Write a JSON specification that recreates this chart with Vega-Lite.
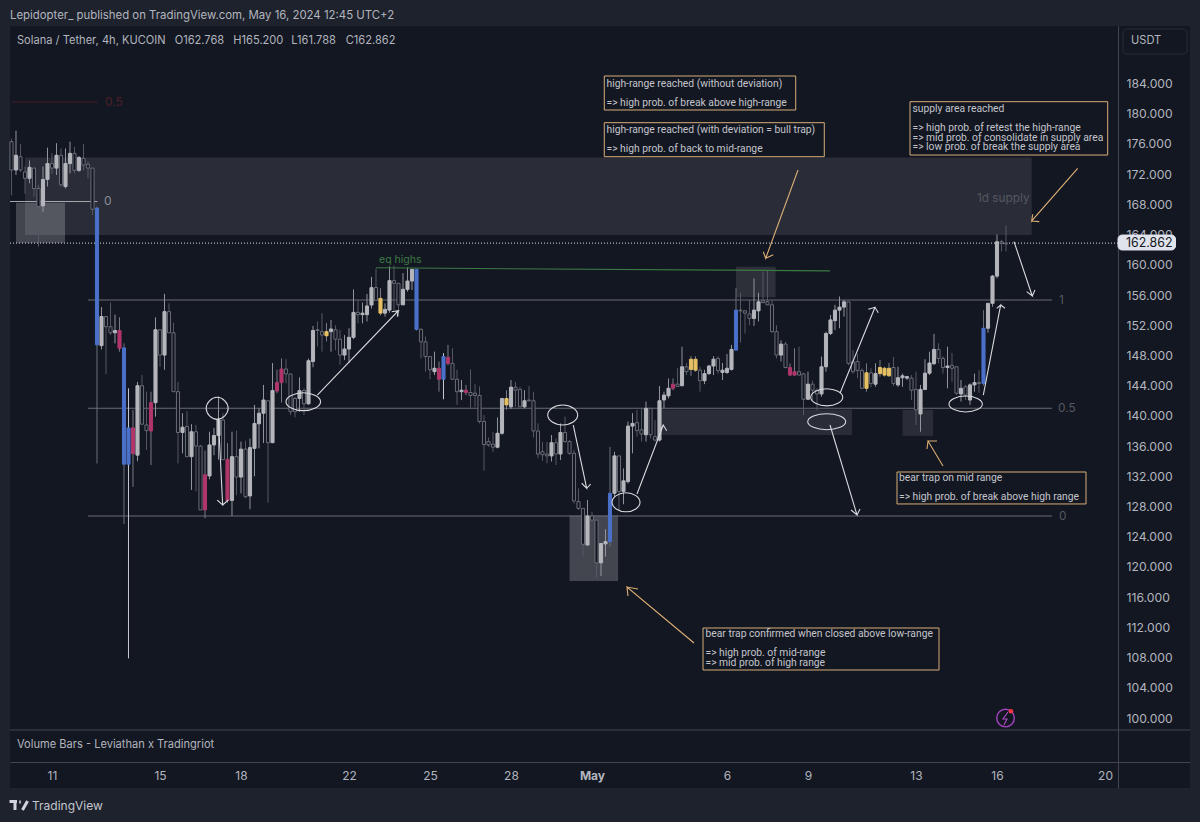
{
  "$schema": "https://vega.github.io/schema/vega-lite/v6.json",
  "autosize": {"type": "none"},
  "padding": {"left": 10, "top": 26, "right": 10, "bottom": 34},
  "width": 1180,
  "height": 762,
  "background": "#1e222d",
  "title": {
    "text": "Lepidopter_ published on TradingView.com, May 16, 2024 12:45 UTC+2",
    "anchor": "start",
    "frame": "group",
    "offset": 5,
    "font": "Inter",
    "fontSize": 11.4,
    "fontWeight": "normal",
    "color": "#b2b5be"
  },
  "config": {
    "view": {"fill": "#131722", "stroke": null},
    "font": "Inter"
  },
  "resolve": {"scale": {"color": "independent", "fill": "independent", "stroke": "independent"}},
  "datasets": {
    "candles": [
      {"b":-9,"o":172.55,"h":176.7,"l":169.2,"c":176.3,"k":"down"},{"b":-8,"o":172.55,"h":177.76,"l":171.9,"c":174.5,"k":"up"},{"b":-7,"o":174.3,"h":176,"l":172.3,"c":172.55,"k":"down"},{"b":-6,"o":172.3,"h":173,"l":169.4,"c":171.45,"k":"down"},{"b":-5,"o":171.45,"h":173.8,"l":170.8,"c":172.9,"k":"up"},{"b":-4,"o":172.8,"h":172.8,"l":169,"c":170.1,"k":"down"},{"b":-3,"o":170.1,"h":170.6,"l":162.4,"c":167.7,"k":"down"},{"b":-2,"o":167.8,"h":173,"l":167,"c":171.3,"k":"up"},{"b":-1,"o":171.3,"h":175.5,"l":170.35,"c":173.4,"k":"up"},{"b":0,"o":173.4,"h":174.8,"l":172,"c":172.8,"k":"down"},
      {"b":1,"o":172.8,"h":176.1,"l":171.9,"c":174.5,"k":"up"},{"b":2,"o":174.5,"h":175.4,"l":170.3,"c":170.6,"k":"down"},{"b":3,"o":170.35,"h":175.4,"l":170.1,"c":173.4,"k":"up"},{"b":4,"o":173.4,"h":176.3,"l":172.1,"c":174.75,"k":"up"},{"b":5,"o":174.75,"h":175.6,"l":172.1,"c":172.5,"k":"down"},{"b":6,"o":172.5,"h":174.4,"l":172.3,"c":174.2,"k":"up"},{"b":7,"o":174.1,"h":176,"l":172.5,"c":173.2,"k":"down"},{"b":8,"o":173.3,"h":173.7,"l":171.45,"c":172.8,"k":"down"},{"b":9,"o":172.8,"h":172.8,"l":166.6,"c":167.35,"k":"down"},{"b":10,"o":167.5,"h":167.7,"l":133.7,"c":149.4,"k":"blue"},
      {"b":11,"o":149.3,"h":154.4,"l":148.8,"c":153.15,"k":"up"},{"b":12,"o":153.15,"h":153.15,"l":145.55,"c":151.8,"k":"down"},{"b":13,"o":151.8,"h":155,"l":150.7,"c":151,"k":"down"},{"b":14,"o":151,"h":153.4,"l":149.6,"c":151.3,"k":"up"},{"b":15,"o":151.3,"h":153.05,"l":148.5,"c":148.95,"k":"pink"},{"b":16,"o":149,"h":149.6,"l":125.7,"c":133.6,"k":"blue"},{"b":17,"o":133.6,"h":143.65,"l":107.9,"c":138.4,"k":"blue2"},{"b":18,"o":138.4,"h":140.8,"l":130.6,"c":135,"k":"pink"},{"b":19,"o":134.8,"h":144.5,"l":134,"c":144,"k":"up"},{"b":20,"o":144,"h":145.4,"l":138.8,"c":138.9,"k":"down"},
      {"b":21,"o":138.8,"h":143.2,"l":135.5,"c":138.05,"k":"down"},{"b":22,"o":138,"h":143.2,"l":133.5,"c":141.75,"k":"pink"},{"b":23,"o":141.75,"h":153.05,"l":139.9,"c":151.4,"k":"up"},{"b":24,"o":151.4,"h":151.4,"l":146.5,"c":148.05,"k":"down"},{"b":25,"o":148.05,"h":156.15,"l":146.1,"c":153.8,"k":"up"},{"b":26,"o":153.8,"h":154.9,"l":151,"c":151,"k":"down"},{"b":27,"o":151,"h":152.3,"l":143.2,"c":143.2,"k":"down"},{"b":28,"o":143.2,"h":144.5,"l":133.7,"c":137.8,"k":"down"},{"b":29,"o":137.8,"h":140.35,"l":135.05,"c":138.5,"k":"up"},{"b":30,"o":138.6,"h":140.6,"l":134.6,"c":134.6,"k":"down"},
      {"b":31,"o":134.6,"h":138.9,"l":130.2,"c":137.9,"k":"up"},{"b":32,"o":137.9,"h":138.8,"l":130,"c":136,"k":"down"},{"b":33,"o":136,"h":136.15,"l":127.55,"c":127.55,"k":"down"},{"b":34,"o":132.2,"h":135.4,"l":126.45,"c":127.55,"k":"pink"},{"b":35,"o":132.05,"h":137.9,"l":131.6,"c":136.15,"k":"up"},{"b":36,"o":136.15,"h":138.4,"l":134.8,"c":137.4,"k":"up"},{"b":37,"o":137.4,"h":142.55,"l":134.2,"c":139.45,"k":"up"},{"b":38,"o":139.45,"h":140.35,"l":134.2,"c":134.2,"k":"down"},{"b":39,"o":134.25,"h":136.4,"l":128.5,"c":128.8,"k":"pink"},{"b":40,"o":128.8,"h":137.9,"l":126.75,"c":134.6,"k":"up"},
      {"b":41,"o":134.6,"h":138.05,"l":129.5,"c":131.9,"k":"down"},{"b":42,"o":131.9,"h":136.6,"l":129.75,"c":135.6,"k":"up"},{"b":43,"o":135.6,"h":136.7,"l":129.1,"c":129.3,"k":"down"},{"b":44,"o":129.4,"h":137,"l":127.65,"c":135.8,"k":"up"},{"b":45,"o":135.7,"h":141.45,"l":132,"c":139,"k":"up"},{"b":46,"o":138.95,"h":141,"l":135.7,"c":140.35,"k":"up"},{"b":47,"o":140.35,"h":144.1,"l":136.4,"c":142.1,"k":"up"},{"b":48,"o":142,"h":142,"l":128.5,"c":136.45,"k":"down"},{"b":49,"o":136.45,"h":147,"l":136.4,"c":143.35,"k":"up"},{"b":50,"o":143.3,"h":146.1,"l":143,"c":144.4,"k":"pink"},
      {"b":51,"o":144.4,"h":147.6,"l":141.75,"c":146.2,"k":"pink"},{"b":52,"o":146.2,"h":147.5,"l":144.3,"c":145.55,"k":"down"},{"b":53,"o":145.55,"h":145.55,"l":140.1,"c":140.55,"k":"down"},{"b":54,"o":142.3,"h":142.55,"l":139.8,"c":140.55,"k":"down"},{"b":55,"o":142.3,"h":145.1,"l":140.55,"c":143.35,"k":"up"},{"b":56,"o":143.35,"h":143.65,"l":140.1,"c":141.6,"k":"down"},{"b":57,"o":141.6,"h":147.6,"l":141.45,"c":147.3,"k":"up"},{"b":58,"o":147.2,"h":151.9,"l":146.45,"c":151.3,"k":"up"},{"b":59,"o":151.4,"h":152.5,"l":149.2,"c":151.3,"k":"down"},{"b":60,"o":151.15,"h":153.6,"l":148.5,"c":150.7,"k":"down"},
      {"b":61,"o":151.15,"h":152.3,"l":149.85,"c":150.6,"k":"yellow"},{"b":62,"o":151.15,"h":152.7,"l":148.5,"c":151.5,"k":"up"},{"b":63,"o":151.4,"h":152,"l":148.7,"c":150.15,"k":"down"},{"b":64,"o":150.15,"h":151.4,"l":146.75,"c":148.05,"k":"down"},{"b":65,"o":148.05,"h":150.7,"l":147.4,"c":148.85,"k":"up"},{"b":66,"o":148.85,"h":151.6,"l":147,"c":150.4,"k":"up"},{"b":67,"o":150.4,"h":156.75,"l":150.15,"c":153.7,"k":"up"},{"b":68,"o":153.7,"h":155.35,"l":152.25,"c":153.4,"k":"down"},{"b":69,"o":153.4,"h":155,"l":152.25,"c":153.6,"k":"up"},{"b":70,"o":153.4,"h":156.15,"l":152.5,"c":154.55,"k":"up"},
      {"b":71,"o":154.68,"h":158.4,"l":154.2,"c":156.97,"k":"up"},{"b":72,"o":157,"h":159.5,"l":155.3,"c":155.3,"k":"down"},{"b":73,"o":155.55,"h":156.9,"l":153.3,"c":153.6,"k":"yellow"},{"b":74,"o":153.6,"h":154.9,"l":153.15,"c":154.1,"k":"up"},{"b":75,"o":154,"h":159.8,"l":153.66,"c":157.9,"k":"up"},{"b":76,"o":157.9,"h":159.9,"l":154,"c":157.55,"k":"down"},{"b":77,"o":157.55,"h":157.55,"l":153.15,"c":154.7,"k":"down"},{"b":78,"o":154.7,"h":158.9,"l":154.7,"c":156.75,"k":"up"},{"b":79,"o":156.75,"h":159.65,"l":156.45,"c":157.85,"k":"up"},{"b":80,"o":157.85,"h":159.4,"l":156.65,"c":159.4,"k":"up"},
      {"b":81,"o":159.4,"h":159.45,"l":151.3,"c":151.45,"k":"blue"},{"b":82,"o":151.45,"h":151.6,"l":147.6,"c":149.8,"k":"down"},{"b":83,"o":149.8,"h":150.5,"l":145.85,"c":147.85,"k":"down"},{"b":84,"o":147.85,"h":147.85,"l":144.85,"c":146.1,"k":"down"},{"b":85,"o":145.85,"h":148.5,"l":145.4,"c":146.3,"k":"up"},{"b":86,"o":146.3,"h":147.2,"l":143.2,"c":144.85,"k":"pink"},{"b":87,"o":144.85,"h":148.3,"l":142.2,"c":147.85,"k":"blue2"},{"b":88,"o":147.75,"h":149.4,"l":146.7,"c":146.95,"k":"pink"},{"b":89,"o":146.95,"h":148.95,"l":144.75,"c":144.85,"k":"down"},{"b":90,"o":144.85,"h":146.1,"l":141.45,"c":143.2,"k":"down"},
      {"b":91,"o":143.2,"h":144.75,"l":142.1,"c":143.4,"k":"up"},{"b":92,"o":143.4,"h":144.1,"l":142.75,"c":143.1,"k":"pink"},{"b":93,"o":143.1,"h":146.15,"l":141.1,"c":142.7,"k":"down"},{"b":94,"o":143,"h":144.2,"l":141.2,"c":142.7,"k":"down"},{"b":95,"o":142.7,"h":143.9,"l":139,"c":139.25,"k":"down"},{"b":96,"o":139.25,"h":140.1,"l":132.75,"c":136.2,"k":"down"},{"b":97,"o":136.6,"h":137.15,"l":135.9,"c":136.15,"k":"down"},{"b":98,"o":136.25,"h":137.9,"l":135.25,"c":135.85,"k":"down"},{"b":99,"o":135.85,"h":139.8,"l":135.7,"c":137.7,"k":"up"},{"b":100,"o":137.7,"h":142.3,"l":137.5,"c":142.3,"k":"up"},
      {"b":101,"o":141.45,"h":143.4,"l":140.8,"c":142.3,"k":"yellow"},{"b":102,"o":141.2,"h":144.75,"l":140.9,"c":143.8,"k":"up"},{"b":103,"o":143.8,"h":144.5,"l":141.2,"c":143.4,"k":"down"},{"b":104,"o":143.5,"h":143.85,"l":141.2,"c":141.2,"k":"down"},{"b":105,"o":141.2,"h":143.4,"l":141,"c":142,"k":"up"},{"b":106,"o":142.1,"h":143.95,"l":141.9,"c":142,"k":"down"},{"b":107,"o":142,"h":143.2,"l":137.15,"c":138,"k":"down"},{"b":108,"o":138,"h":139,"l":134.4,"c":134.95,"k":"down"},{"b":109,"o":135.25,"h":136.55,"l":134.05,"c":134.85,"k":"down"},{"b":110,"o":134.95,"h":136.55,"l":133.7,"c":134.7,"k":"down"},
      {"b":111,"o":134.7,"h":137.45,"l":133.95,"c":136.45,"k":"up"},{"b":112,"o":136.45,"h":137,"l":133.5,"c":134.95,"k":"down"},{"b":113,"o":134.95,"h":139,"l":134.15,"c":137.8,"k":"up"},{"b":114,"o":137.8,"h":139.9,"l":136.45,"c":136.6,"k":"down"},{"b":115,"o":136.6,"h":136.8,"l":134.85,"c":135.05,"k":"down"},{"b":116,"o":135.05,"h":135.5,"l":128.4,"c":128.75,"k":"down"},{"b":117,"o":128.65,"h":130.4,"l":127.55,"c":127.75,"k":"down"},{"b":118,"o":127.75,"h":127.75,"l":121.35,"c":123,"k":"down"},{"b":119,"o":122.9,"h":128.85,"l":122.9,"c":126.75,"k":"up"},{"b":120,"o":126.75,"h":127.3,"l":126,"c":126.2,"k":"down"},
      {"b":121,"o":126.2,"h":126.2,"l":118.5,"c":120.55,"k":"down"},{"b":122,"o":120.55,"h":123.1,"l":118.8,"c":123.1,"k":"up"},{"b":123,"o":123.05,"h":125,"l":121.35,"c":123.35,"k":"up"},{"b":124,"o":123.35,"h":135.9,"l":122.7,"c":129.75,"k":"blue"},{"b":125,"o":129.75,"h":135.25,"l":129.3,"c":134.7,"k":"up"},{"b":126,"o":134.7,"h":134.7,"l":127.5,"c":130,"k":"down"},{"b":127,"o":130,"h":133.05,"l":128.3,"c":131.4,"k":"up"},{"b":128,"o":131.3,"h":139.25,"l":131.05,"c":138.65,"k":"up"},{"b":129,"o":138.65,"h":140.35,"l":135.05,"c":139,"k":"up"},{"b":130,"o":139.1,"h":140.8,"l":137.25,"c":138.05,"k":"down"},
      {"b":131,"o":138.15,"h":141,"l":136.6,"c":137.6,"k":"down"},{"b":132,"o":137.5,"h":141.9,"l":136.6,"c":141,"k":"up"},{"b":133,"o":141,"h":141,"l":137,"c":137.5,"k":"down"},{"b":134,"o":137.25,"h":139.45,"l":136.6,"c":136.8,"k":"down"},{"b":135,"o":136.8,"h":143.95,"l":136.6,"c":142,"k":"up"},{"b":136,"o":142.1,"h":143.2,"l":141,"c":142.75,"k":"up"},{"b":137,"o":142.65,"h":144.95,"l":142.3,"c":143.65,"k":"up"},{"b":138,"o":144.2,"h":144.95,"l":143.4,"c":143.65,"k":"pink"},{"b":139,"o":144.2,"h":146.3,"l":143.9,"c":143.9,"k":"down"},{"b":140,"o":144,"h":149.15,"l":143.9,"c":146.5,"k":"up"},
      {"b":141,"o":146.5,"h":147,"l":145.4,"c":145.85,"k":"down"},{"b":142,"o":146.15,"h":147.9,"l":145.3,"c":147.5,"k":"yellow"},{"b":143,"o":147.5,"h":147.9,"l":145.85,"c":146.05,"k":"yellow"},{"b":144,"o":146.05,"h":146.5,"l":143.2,"c":144.65,"k":"down"},{"b":145,"o":144.65,"h":146.1,"l":144.2,"c":145.6,"k":"up"},{"b":146,"o":145.6,"h":146.75,"l":145.4,"c":146.6,"k":"up"},{"b":147,"o":146.6,"h":147.9,"l":145.4,"c":147.5,"k":"up"},{"b":148,"o":147.6,"h":147.9,"l":145.6,"c":146,"k":"down"},{"b":149,"o":145.75,"h":147,"l":144.75,"c":146.05,"k":"up"},{"b":150,"o":145.75,"h":148.2,"l":145.55,"c":146.3,"k":"up"},
      {"b":151,"o":146.15,"h":149.4,"l":146,"c":148.8,"k":"up"},{"b":152,"o":148.7,"h":156.9,"l":148.7,"c":154,"k":"blue"},{"b":153,"o":154,"h":156.3,"l":149.7,"c":153.9,"k":"down"},{"b":154,"o":153.9,"h":154,"l":150.9,"c":153.6,"k":"down"},{"b":155,"o":153.5,"h":155.35,"l":152,"c":152.9,"k":"down"},{"b":156,"o":152.9,"h":158.2,"l":151.9,"c":154,"k":"up"},{"b":157,"o":153.9,"h":156.3,"l":152.5,"c":155.1,"k":"up"},{"b":158,"o":155.25,"h":159.1,"l":154.9,"c":155,"k":"down"},{"b":159,"o":155.1,"h":159.3,"l":154.7,"c":154.7,"k":"down"},{"b":160,"o":154.7,"h":155.4,"l":151,"c":151.15,"k":"down"},
      {"b":161,"o":151.15,"h":152,"l":147.6,"c":148.05,"k":"down"},{"b":162,"o":148.05,"h":150,"l":147.2,"c":149.5,"k":"up"},{"b":163,"o":149.5,"h":149.8,"l":146.3,"c":146.4,"k":"down"},{"b":164,"o":146.4,"h":146.95,"l":145.3,"c":145.4,"k":"pink"},{"b":165,"o":145.85,"h":148.95,"l":145.3,"c":145.4,"k":"pink"},{"b":166,"o":145.85,"h":149.15,"l":145.4,"c":145.4,"k":"down"},{"b":167,"o":145.55,"h":145.7,"l":140.1,"c":142.2,"k":"down"},{"b":168,"o":142.2,"h":145.85,"l":142.1,"c":144.2,"k":"up"},{"b":169,"o":144.2,"h":144.65,"l":142,"c":143.4,"k":"down"},{"b":170,"o":143.4,"h":143.65,"l":140.7,"c":142.9,"k":"down"},
      {"b":171,"o":142.9,"h":147.85,"l":142.55,"c":146.5,"k":"up"},{"b":172,"o":146.5,"h":151.15,"l":145.85,"c":150.9,"k":"up"},{"b":173,"o":150.9,"h":153.35,"l":150.7,"c":152.7,"k":"up"},{"b":174,"o":152.6,"h":154.7,"l":151.35,"c":154,"k":"up"},{"b":175,"o":154,"h":155.8,"l":151.6,"c":154.4,"k":"up"},{"b":176,"o":154.4,"h":155.35,"l":153.15,"c":155.1,"k":"up"},{"b":177,"o":155.1,"h":155.1,"l":146.7,"c":146.95,"k":"down"},{"b":178,"o":147.15,"h":148.7,"l":145.6,"c":145.85,"k":"down"},{"b":179,"o":147.2,"h":148.2,"l":145,"c":146,"k":"down"},{"b":180,"o":146,"h":146.3,"l":143.6,"c":143.65,"k":"down"},
      {"b":181,"o":145.7,"h":146.95,"l":143.2,"c":143.65,"k":"yellow"},{"b":182,"o":145.7,"h":146.3,"l":143.8,"c":144.3,"k":"down"},{"b":183,"o":144.2,"h":146.95,"l":143.85,"c":145.6,"k":"up"},{"b":184,"o":145.6,"h":147.4,"l":145.2,"c":146.4,"k":"yellow"},{"b":185,"o":145.4,"h":146.5,"l":145.2,"c":146.3,"k":"yellow"},{"b":186,"o":146.3,"h":147,"l":145.2,"c":145.3,"k":"yellow"},{"b":187,"o":146.4,"h":147.8,"l":143.95,"c":144.3,"k":"down"},{"b":188,"o":144.1,"h":146.5,"l":143.85,"c":145.05,"k":"up"},{"b":189,"o":145.05,"h":145.6,"l":143.85,"c":145.3,"k":"up"},{"b":190,"o":145,"h":145.3,"l":144.75,"c":145.2,"k":"up"},
      {"b":191,"o":145,"h":145.4,"l":142.1,"c":143.4,"k":"down"},{"b":192,"o":143.5,"h":145.85,"l":138.8,"c":140.8,"k":"down"},{"b":193,"o":140.25,"h":144.1,"l":137.9,"c":143.5,"k":"up"},{"b":194,"o":143.5,"h":147.5,"l":143.4,"c":145.65,"k":"up"},{"b":195,"o":145.65,"h":148.5,"l":145.4,"c":147,"k":"up"},{"b":196,"o":146.9,"h":150.85,"l":146.75,"c":148.8,"k":"up"},{"b":197,"o":148.8,"h":149.6,"l":146.95,"c":147.6,"k":"down"},{"b":198,"o":147.6,"h":147.9,"l":145.6,"c":146.4,"k":"down"},{"b":199,"o":146.4,"h":149.15,"l":143.65,"c":146.6,"k":"up"},{"b":200,"o":146.7,"h":148.35,"l":144.5,"c":146.3,"k":"down"},
      {"b":201,"o":146.5,"h":146.5,"l":142.75,"c":143,"k":"down"},{"b":202,"o":142.9,"h":144.75,"l":141.9,"c":143.65,"k":"up"},{"b":203,"o":143.85,"h":144.1,"l":142.1,"c":142.75,"k":"down"},{"b":204,"o":142.1,"h":144.3,"l":141.45,"c":144.1,"k":"up"},{"b":205,"o":144.1,"h":145.6,"l":143.2,"c":144.4,"k":"up"},{"b":206,"o":144.4,"h":146.05,"l":143.05,"c":144.3,"k":"down"},{"b":207,"o":144.3,"h":154,"l":144,"c":151.6,"k":"blue"},{"b":208,"o":151.6,"h":154.9,"l":151,"c":154.9,"k":"up"},{"b":209,"o":154.9,"h":158.65,"l":154.45,"c":158.5,"k":"up"},{"b":210,"o":158.5,"h":164,"l":158.2,"c":163.05,"k":"up"},
      {"b":211,"o":163.05,"h":163.3,"l":161.75,"c":162.85,"k":"down"},{"b":212,"o":162.768,"h":165.2,"l":161.788,"c":162.862,"k":"down"}
    ],
    "zones": [
      {"kind":"supply","b":-6,"b2":217.7,"p":174.2,"p2":163.95},
      {"kind":"left","b":-8,"b2":2.9,"p":168.2,"p2":162.9},
      {"kind":"low","b":115,"b2":125.8,"p":126.8,"p2":118.15},
      {"kind":"mid","b":135.1,"b2":177.8,"p":140.85,"p2":137.47},
      {"kind":"top","b":152,"b2":160.8,"p":159.75,"p2":155.7},
      {"kind":"mid","b":189,"b2":195.8,"p":140.8,"p2":137.35}
    ],
    "levels": [
      {"kind":"red","b":-8.89,"b2":10.1,"p":181.55},
      {"kind":"upper","b":-9.33,"b2":10.1,"p":168.38},
      {"kind":"fib","b":8,"b2":222.2,"p":155.33},
      {"kind":"fib","b":8,"b2":222.2,"p":141},
      {"kind":"fib","b":8,"b2":222.2,"p":126.75},
      {"kind":"pane","b":-9.33,"b2":252.89,"p":98.42}
    ],
    "loops": [
      {"id":"e1","o":0,"b":36.7,"p":142.46},{"id":"e1","o":1,"b":38.4,"p":142},{"id":"e1","o":2,"b":39.15,"p":141},{"id":"e1","o":3,"b":38.4,"p":140},{"id":"e1","o":4,"b":36.7,"p":139.54},{"id":"e1","o":5,"b":35,"p":140},{"id":"e1","o":6,"b":34.26,"p":141},{"id":"e1","o":7,"b":35,"p":142},
      {"id":"e2","o":0,"b":55.84,"p":143.07},{"id":"e2","o":1,"b":58.53,"p":142.71},{"id":"e2","o":2,"b":59.68,"p":141.88},{"id":"e2","o":3,"b":58.53,"p":141.05},{"id":"e2","o":4,"b":55.84,"p":140.69},{"id":"e2","o":5,"b":53.15,"p":141.05},{"id":"e2","o":6,"b":52,"p":141.88},{"id":"e2","o":7,"b":53.15,"p":142.71},
      {"id":"e3","o":0,"b":113.49,"p":141.44},{"id":"e3","o":1,"b":115.82,"p":141.05},{"id":"e3","o":2,"b":116.82,"p":140.12},{"id":"e3","o":3,"b":115.82,"p":139.19},{"id":"e3","o":4,"b":113.49,"p":138.8},{"id":"e3","o":5,"b":111.16,"p":139.19},{"id":"e3","o":6,"b":110.16,"p":140.12},{"id":"e3","o":7,"b":111.16,"p":141.05},
      {"id":"e4","o":0,"b":127.56,"p":129.82},{"id":"e4","o":1,"b":129.74,"p":129.44},{"id":"e4","o":2,"b":130.67,"p":128.56},{"id":"e4","o":3,"b":129.74,"p":127.68},{"id":"e4","o":4,"b":127.56,"p":127.3},{"id":"e4","o":5,"b":125.38,"p":127.68},{"id":"e4","o":6,"b":124.45,"p":128.56},{"id":"e4","o":7,"b":125.38,"p":129.44},
      {"id":"e5","o":0,"b":172.16,"p":143.59},{"id":"e5","o":1,"b":174.65,"p":143.25},{"id":"e5","o":2,"b":175.72,"p":142.46},{"id":"e5","o":3,"b":174.65,"p":141.67},{"id":"e5","o":4,"b":172.16,"p":141.33},{"id":"e5","o":5,"b":169.67,"p":141.67},{"id":"e5","o":6,"b":168.6,"p":142.46},{"id":"e5","o":7,"b":169.67,"p":143.25},
      {"id":"e6","o":0,"b":172.16,"p":140.29},{"id":"e6","o":1,"b":175.11,"p":139.97},{"id":"e6","o":2,"b":176.38,"p":139.23},{"id":"e6","o":3,"b":175.11,"p":138.49},{"id":"e6","o":4,"b":172.16,"p":138.17},{"id":"e6","o":5,"b":169.21,"p":138.49},{"id":"e6","o":6,"b":167.94,"p":139.23},{"id":"e6","o":7,"b":169.21,"p":139.97},
      {"id":"e7","o":0,"b":203.04,"p":142.63},{"id":"e7","o":1,"b":205.64,"p":142.31},{"id":"e7","o":2,"b":206.75,"p":141.57},{"id":"e7","o":3,"b":205.64,"p":140.83},{"id":"e7","o":4,"b":203.04,"p":140.51},{"id":"e7","o":5,"b":200.44,"p":140.83},{"id":"e7","o":6,"b":199.33,"p":141.57},{"id":"e7","o":7,"b":200.44,"p":142.31}
    ],
    "paths": [
      {"id":"eq","kind":"green","o":0,"b":72,"p":159.6},{"id":"eq","kind":"green","o":1,"b":172.89,"p":159.2},
      {"id":"a1","kind":"white","o":0,"b":36.96,"p":139.72},{"id":"a1","kind":"white","o":1,"b":37.93,"p":128.2},{"id":"a1","kind":"white","o":2,"b":36.73,"p":128.86},{"id":"a1","kind":"white","o":3,"b":37.93,"p":128.2},{"id":"a1","kind":"white","o":4,"b":39.18,"p":128.86},
      {"id":"a2","kind":"white","o":0,"b":58.96,"p":142.76},{"id":"a2","kind":"white","o":1,"b":76.96,"p":153.92},{"id":"a2","kind":"white","o":2,"b":75.49,"p":153.79},{"id":"a2","kind":"white","o":3,"b":76.96,"p":153.92},{"id":"a2","kind":"white","o":4,"b":76.73,"p":153.13},
      {"id":"a3","kind":"white","o":0,"b":115.84,"p":138.79},{"id":"a3","kind":"white","o":1,"b":118.82,"p":130.41},{"id":"a3","kind":"white","o":2,"b":117.71,"p":131.08},{"id":"a3","kind":"white","o":3,"b":118.82,"p":130.41},{"id":"a3","kind":"white","o":4,"b":119.71,"p":130.98},
      {"id":"a4","kind":"white","o":0,"b":130,"p":129.66},{"id":"a4","kind":"white","o":1,"b":135.84,"p":138.79},{"id":"a4","kind":"white","o":2,"b":135.27,"p":138.13},{"id":"a4","kind":"white","o":3,"b":135.84,"p":138.79},{"id":"a4","kind":"white","o":4,"b":136.6,"p":138.04},
      {"id":"a5","kind":"white","o":0,"b":175.11,"p":142.99},{"id":"a5","kind":"white","o":1,"b":182.89,"p":154.37},{"id":"a5","kind":"white","o":2,"b":181.4,"p":154.11},{"id":"a5","kind":"white","o":3,"b":182.89,"p":154.37},{"id":"a5","kind":"white","o":4,"b":183.62,"p":153.66},
      {"id":"a6","kind":"white","o":0,"b":172.89,"p":138.79},{"id":"a6","kind":"white","o":1,"b":178.89,"p":126.88},{"id":"a6","kind":"white","o":2,"b":177.56,"p":127.54},{"id":"a6","kind":"white","o":3,"b":178.89,"p":126.88},{"id":"a6","kind":"white","o":4,"b":179.56,"p":127.67},
      {"id":"a8","kind":"white","o":0,"b":206.96,"p":142.76},{"id":"a8","kind":"white","o":1,"b":210.82,"p":154.68},{"id":"a8","kind":"white","o":2,"b":209.93,"p":154.24},{"id":"a8","kind":"white","o":3,"b":210.82,"p":154.68},{"id":"a8","kind":"white","o":4,"b":211.78,"p":154.24},
      {"id":"a9","kind":"white","o":0,"b":213.78,"p":163.06},{"id":"a9","kind":"white","o":1,"b":217.84,"p":155.87},{"id":"a9","kind":"white","o":2,"b":216.6,"p":156.44},{"id":"a9","kind":"white","o":3,"b":217.84,"p":155.87},{"id":"a9","kind":"white","o":4,"b":218.44,"p":156.66},
      {"id":"o1","kind":"orange","o":0,"b":165.78,"p":172.55},{"id":"o1","kind":"orange","o":1,"b":158.6,"p":160.86},{"id":"o1","kind":"orange","o":2,"b":158.07,"p":161.73},{"id":"o1","kind":"orange","o":3,"b":158.6,"p":160.86},{"id":"o1","kind":"orange","o":4,"b":160.29,"p":161.34},
      {"id":"o2","kind":"orange","o":0,"b":227.93,"p":172.77},{"id":"o2","kind":"orange","o":1,"b":217.71,"p":165.8},{"id":"o2","kind":"orange","o":2,"b":217.93,"p":166.68},{"id":"o2","kind":"orange","o":3,"b":217.71,"p":165.8},{"id":"o2","kind":"orange","o":4,"b":219.4,"p":165.71},
      {"id":"o3","kind":"orange","o":0,"b":198,"p":133.36},{"id":"o3","kind":"orange","o":1,"b":194.67,"p":136.67},{"id":"o3","kind":"orange","o":2,"b":194.44,"p":135.62},{"id":"o3","kind":"orange","o":3,"b":194.67,"p":136.67},{"id":"o3","kind":"orange","o":4,"b":196.67,"p":136.67},
      {"id":"o4","kind":"orange","o":0,"b":142.67,"p":109.93},{"id":"o4","kind":"orange","o":1,"b":127.78,"p":117.34},{"id":"o4","kind":"orange","o":2,"b":128,"p":116.15},{"id":"o4","kind":"orange","o":3,"b":127.78,"p":117.34},{"id":"o4","kind":"orange","o":4,"b":130.22,"p":117.08},
      {"id":"bolt","kind":"purple","o":0,"b":212.44,"p":100.8},{"id":"bolt","kind":"purple","o":1,"b":211.33,"p":99.87},{"id":"bolt","kind":"purple","o":2,"b":212.22,"p":99.87},{"id":"bolt","kind":"purple","o":3,"b":211.56,"p":99.08}
    ],
    "logo": [
      {"id":"t1","o":0,"b":-9.44,"p":88.95},{"id":"t1","o":1,"b":-7.78,"p":88.95},
      {"id":"t2","o":0,"b":-8.22,"p":88.95},{"id":"t2","o":1,"b":-8.22,"p":87.83},
      {"id":"dot","o":0,"b":-7.27,"p":88.88},{"id":"dot","o":1,"b":-6.93,"p":88.88},
      {"id":"v","o":0,"b":-5.44,"p":89.01},{"id":"v","o":1,"b":-6.56,"p":87.83}
    ],
    "badge": [
      {"kind":"ring","b":211.9,"p":100},
      {"kind":"alert","b":213.1,"p":100.9}
    ],
    "notes": [
      {"b":122.73,"b2":165.27,"p":184.99,"p2":180.49},
      {"b":122.73,"b2":171.62,"p":178.81,"p2":174.31},
      {"b":190.67,"b2":234.6,"p":181.59,"p2":174.53},
      {"b":187.78,"b2":229.78,"p":132.57,"p2":128.34},
      {"b":144.67,"b2":197.11,"p":111.92,"p2":106.36}
    ],
    "chips": [
      {"kind":"usdt","b":238,"b2":252.22,"p":191.21,"p2":187.9},
      {"kind":"last","b":236.89,"b2":249.67,"p":163.94,"p2":161.96}
    ],
    "noteTexts": [
      {"b":123.22,"p":183.93,"t":"high-range reached (without deviation)"},
      {"b":123.22,"p":181.42,"t":"=> high prob. of break above high-range"},
      {"b":123.22,"p":177.84,"t":"high-range reached (with deviation = bull trap)"},
      {"b":123.22,"p":175.33,"t":"=> high prob. of back to mid-range"},
      {"b":191.22,"p":180.62,"t":"supply area reached"},
      {"b":191.22,"p":178.07,"t":"=> high prob. of retest the high-range"},
      {"b":191.22,"p":176.83,"t":"=> mid prob. of consolidate in supply area"},
      {"b":191.22,"p":175.55,"t":"=> low prob. of break the supply area"},
      {"b":188.22,"p":131.78,"t":"bear trap on mid range"},
      {"b":188.22,"p":129.27,"t":"=> high prob. of break above high range"},
      {"b":145.22,"p":111.12,"t":"bear trap confirmed when closed above low-range"},
      {"b":145.22,"p":108.6,"t":"=> high prob. of mid-range"},
      {"b":145.22,"p":107.28,"t":"=> mid prob. of high range"}
    ],
    "texts": [
      {"kind":"eq","b":72.67,"p":160.64,"t":"eq highs"},
      {"kind":"faint","b":205.56,"p":168.84,"t":"1d supply"},
      {"kind":"upper","b":11.56,"p":168.38,"t":"0"},
      {"kind":"red","b":11.78,"p":181.55,"t":"0.5"},
      {"kind":"faint","b":223.78,"p":155.34,"t":"1"},
      {"kind":"faint","b":223.56,"p":141,"t":"0.5"},
      {"kind":"faint","b":223.78,"p":126.75,"t":"0"},
      {"kind":"head","b":-7.78,"p":189.63,"t":"Solana / Tether, 4h, KUCOIN"},
      {"kind":"head","b":27.26,"p":189.63,"t":"O162.768"},
      {"kind":"head","b":40.29,"p":189.63,"t":"H165.200"},
      {"kind":"head","b":53.18,"p":189.63,"t":"L161.788"},
      {"kind":"head","b":65.27,"p":189.63,"t":"C162.862"},
      {"kind":"head","b":-7.78,"p":96.43,"t":"Volume Bars - Leviathan x Tradingriot"},
      {"kind":"head","b":239.78,"p":189.63,"t":"USDT"},
      {"kind":"brand","b":-4.44,"p":88.36,"t":"TradingView"},
      {"kind":"tag","b":238.67,"p":162.86,"t":"162.862"}
    ]
  },
  "layer": [
    {
      "data": {"name": "zones"},
      "mark": {"type": "rect"},
      "encoding": {
        "x": {
          "field": "b",
          "type": "quantitative",
          "scale": {"domain": [-9.333, 252.889], "nice": false, "zero": false, "padding": 0},
          "axis": {
            "orient": "bottom",
            "offset": -26,
            "title": null,
            "grid": false,
            "ticks": false,
            "domainColor": "#434651",
            "labelColor": "#b2b5be",
            "labelFont": "Inter",
            "labelFontSize": 12,
            "labelPadding": 8,
            "labelOverlap": false,
            "tickCount": 30,
            "labelFontWeight": {"condition": {"test": "datum.value == 120", "value": "bold"}, "value": "normal"},
            "values": [0, 24, 42, 66, 84, 102, 120, 150, 168, 192, 210, 234],
            "labelExpr": "{'0':'11','24':'15','42':'18','66':'22','84':'25','102':'28','120':'May','150':'6','168':'9','192':'13','210':'16','234':'20'}[datum.value]"
          }
        },
        "x2": {"field": "b2"},
        "y": {
          "field": "p",
          "type": "quantitative",
          "scale": {"domain": [90.74, 191.61], "nice": false, "zero": false},
          "axis": {
            "orient": "right",
            "offset": -72,
            "title": null,
            "grid": false,
            "ticks": false,
            "domainColor": "#434651",
            "labelColor": "#b2b5be",
            "labelFont": "Inter",
            "labelFontSize": 12.2,
            "labelPadding": 8,
            "labelOverlap": false,
            "tickCount": 30,
            "format": ".3f",
            "values": [100, 104, 108, 112, 116, 120, 124, 128, 132, 136, 140, 144, 148, 152, 156, 160, 164, 168, 172, 176, 180, 184]
          }
        },
        "y2": {"field": "p2"},
        "color": {
          "field": "kind",
          "type": "nominal",
          "legend": null,
          "scale": {
            "domain": ["supply", "left", "low", "mid", "top"],
            "range": ["#2a2d38", "rgba(255,255,255,0.2)", "#43464e", "#2a2d38", "#2e3039"]
          }
        }
      }
    },
    {
      "data": {"name": "levels"},
      "mark": {"type": "rule", "strokeWidth": 1.1},
      "encoding": {
        "x": {"field": "b", "type": "quantitative"},
        "x2": {"field": "b2"},
        "y": {"field": "p", "type": "quantitative"},
        "color": {
          "field": "kind",
          "type": "nominal",
          "legend": null,
          "scale": {
            "domain": ["red", "upper", "fib", "pane"],
            "range": ["#4a1f28", "#a5a6aa", "#6b6d73", "#434651"]
          }
        }
      }
    },
    {
      "data": {"values": [{"b": -9.33, "b2": 236.89, "p": 162.862}]},
      "mark": {"type": "rule", "strokeWidth": 1.2, "strokeDash": [1, 2], "color": "#b8bac0"},
      "encoding": {
        "x": {"field": "b", "type": "quantitative"},
        "x2": {"field": "b2"},
        "y": {"field": "p", "type": "quantitative"}
      }
    },
    {
      "data": {"name": "candles"},
      "mark": {"type": "rule", "strokeWidth": 1},
      "encoding": {
        "x": {"field": "b", "type": "quantitative"},
        "y": {"field": "l", "type": "quantitative"},
        "y2": {"field": "h"},
        "color": {
          "field": "k",
          "type": "nominal",
          "legend": null,
          "scale": {
            "domain": ["up", "down", "blue", "blue2", "pink", "yellow"],
            "range": ["#93959c", "#565963", "#6c6f78", "#c8c9ce", "#7a7c84", "#7a7c84"]
          }
        }
      }
    },
    {
      "data": {"name": "candles"},
      "mark": {"type": "bar", "width": 3.1, "strokeWidth": 1},
      "encoding": {
        "x": {"field": "b", "type": "quantitative"},
        "y": {"field": "o", "type": "quantitative"},
        "y2": {"field": "c"},
        "fill": {
          "field": "k",
          "type": "nominal",
          "legend": null,
          "scale": {
            "domain": ["up", "down", "blue", "blue2", "pink", "yellow"],
            "range": ["#b4b6bc", "#131722", "#4a70c9", "#4a70c9", "#b0366a", "#e4bf63"]
          }
        },
        "stroke": {
          "field": "k",
          "type": "nominal",
          "legend": null,
          "scale": {
            "domain": ["up", "down", "blue", "blue2", "pink", "yellow"],
            "range": ["#b4b6bc", "#6a6d76", "#4a70c9", "#4a70c9", "#b0366a", "#e4bf63"]
          }
        }
      }
    },
    {
      "data": {"name": "loops"},
      "mark": {"type": "line", "interpolate": "cardinal-closed", "strokeWidth": 1.1, "color": "#d8d9dc"},
      "encoding": {
        "x": {"field": "b", "type": "quantitative"},
        "y": {"field": "p", "type": "quantitative"},
        "detail": {"field": "id"},
        "order": {"field": "o"}
      }
    },
    {
      "data": {"name": "paths"},
      "mark": {"type": "line", "strokeWidth": 1.1},
      "encoding": {
        "x": {"field": "b", "type": "quantitative"},
        "y": {"field": "p", "type": "quantitative"},
        "detail": {"field": "id"},
        "order": {"field": "o"},
        "color": {
          "field": "kind",
          "type": "nominal",
          "legend": null,
          "scale": {
            "domain": ["green", "white", "orange", "purple"],
            "range": ["#3c7a44", "#d8d9dc", "#dcae74", "#b04bc8"]
          }
        }
      }
    },
    {
      "data": {"name": "logo"},
      "mark": {"type": "line", "strokeWidth": 3, "color": "#d1d4dc"},
      "encoding": {
        "x": {"field": "b", "type": "quantitative"},
        "y": {"field": "p", "type": "quantitative"},
        "detail": {"field": "id"},
        "order": {"field": "o"}
      }
    },
    {
      "data": {"name": "badge"},
      "transform": [{"filter": "datum.kind == 'ring'"}],
      "mark": {"type": "point", "shape": "circle", "size": 310, "filled": false, "strokeWidth": 1.4, "color": "#a445c0", "opacity": 1},
      "encoding": {
        "x": {"field": "b", "type": "quantitative"},
        "y": {"field": "p", "type": "quantitative"}
      }
    },
    {
      "data": {"name": "badge"},
      "transform": [{"filter": "datum.kind == 'alert'"}],
      "mark": {"type": "point", "shape": "circle", "size": 22, "filled": true, "color": "#f23645", "opacity": 1},
      "encoding": {
        "x": {"field": "b", "type": "quantitative"},
        "y": {"field": "p", "type": "quantitative"}
      }
    },
    {
      "data": {"name": "notes"},
      "mark": {"type": "rect", "fill": "#131722", "stroke": "#d8ae78", "strokeWidth": 1},
      "encoding": {
        "x": {"field": "b", "type": "quantitative"},
        "x2": {"field": "b2"},
        "y": {"field": "p", "type": "quantitative"},
        "y2": {"field": "p2"}
      }
    },
    {
      "data": {"name": "chips"},
      "mark": {"type": "rect", "cornerRadius": 4},
      "encoding": {
        "x": {"field": "b", "type": "quantitative"},
        "x2": {"field": "b2"},
        "y": {"field": "p", "type": "quantitative"},
        "y2": {"field": "p2"},
        "fill": {
          "field": "kind",
          "type": "nominal",
          "legend": null,
          "scale": {"domain": ["usdt", "last"], "range": ["#131722", "#e0e3eb"]}
        },
        "stroke": {
          "field": "kind",
          "type": "nominal",
          "legend": null,
          "scale": {"domain": ["usdt", "last"], "range": ["#2a2e39", "#e0e3eb"]}
        }
      }
    },
    {
      "data": {"name": "noteTexts"},
      "mark": {"type": "text", "align": "left", "baseline": "middle", "font": "Roboto", "fontSize": 10.3, "color": "#c3c5cb"},
      "encoding": {
        "x": {"field": "b", "type": "quantitative"},
        "y": {"field": "p", "type": "quantitative"},
        "text": {"field": "t"}
      }
    },
    {
      "data": {"name": "texts"},
      "transform": [{"filter": "datum.kind == 'eq'"}],
      "mark": {"type": "text", "align": "left", "baseline": "middle", "font": "Inter", "fontSize": 10.5, "color": "#3c7a44"},
      "encoding": {
        "x": {"field": "b", "type": "quantitative"},
        "y": {"field": "p", "type": "quantitative"},
        "text": {"field": "t"}
      }
    },
    {
      "data": {"name": "texts"},
      "transform": [{"filter": "datum.kind == 'faint'"}],
      "mark": {"type": "text", "align": "left", "baseline": "middle", "font": "Inter", "fontSize": 11.8, "color": "#55585f"},
      "encoding": {
        "x": {"field": "b", "type": "quantitative"},
        "y": {"field": "p", "type": "quantitative"},
        "text": {"field": "t"}
      }
    },
    {
      "data": {"name": "texts"},
      "transform": [{"filter": "datum.kind == 'upper'"}],
      "mark": {"type": "text", "align": "left", "baseline": "middle", "font": "Inter", "fontSize": 12, "color": "#8a8c92"},
      "encoding": {
        "x": {"field": "b", "type": "quantitative"},
        "y": {"field": "p", "type": "quantitative"},
        "text": {"field": "t"}
      }
    },
    {
      "data": {"name": "texts"},
      "transform": [{"filter": "datum.kind == 'red'"}],
      "mark": {"type": "text", "align": "left", "baseline": "middle", "font": "Inter", "fontSize": 12, "color": "#4a1f28"},
      "encoding": {
        "x": {"field": "b", "type": "quantitative"},
        "y": {"field": "p", "type": "quantitative"},
        "text": {"field": "t"}
      }
    },
    {
      "data": {"name": "texts"},
      "transform": [{"filter": "datum.kind == 'head'"}],
      "mark": {"type": "text", "align": "left", "baseline": "middle", "font": "Inter", "fontSize": 11.1, "color": "#b2b5be"},
      "encoding": {
        "x": {"field": "b", "type": "quantitative"},
        "y": {"field": "p", "type": "quantitative"},
        "text": {"field": "t"}
      }
    },
    {
      "data": {"name": "texts"},
      "transform": [{"filter": "datum.kind == 'brand'"}],
      "mark": {"type": "text", "align": "left", "baseline": "middle", "font": "Inter", "fontSize": 12, "color": "#c3c6ce"},
      "encoding": {
        "x": {"field": "b", "type": "quantitative"},
        "y": {"field": "p", "type": "quantitative"},
        "text": {"field": "t"}
      }
    },
    {
      "data": {"name": "texts"},
      "transform": [{"filter": "datum.kind == 'tag'"}],
      "mark": {"type": "text", "align": "left", "baseline": "middle", "font": "Inter", "fontSize": 12.4, "color": "#131722"},
      "encoding": {
        "x": {"field": "b", "type": "quantitative"},
        "y": {"field": "p", "type": "quantitative"},
        "text": {"field": "t"}
      }
    }
  ]
}
